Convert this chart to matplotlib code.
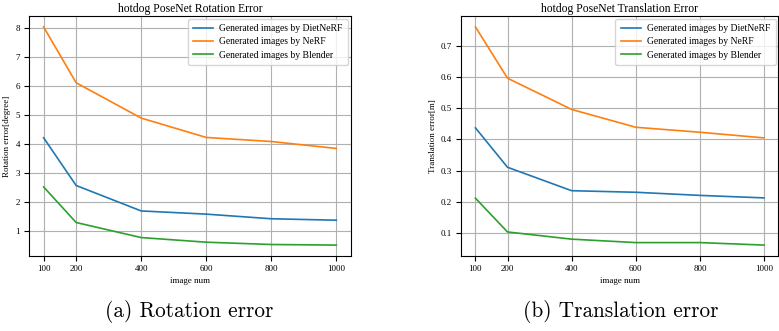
import matplotlib
matplotlib.use("Agg")
import matplotlib.pyplot as plt

# valeurs
image_num = [100, 200, 400, 600, 800, 1000]
labels = ["Generated images by DietNeRF", "Generated images by NeRF", "Generated images by Blender"]

rot_dietnerf = [4.22, 2.57, 1.69, 1.58, 1.42, 1.37]
rot_nerf     = [8.05, 6.12, 4.90, 4.23, 4.09, 3.85]
rot_blender  = [2.52, 1.29, 0.77, 0.61, 0.53, 0.51]

tra_dietnerf = [0.437, 0.311, 0.236, 0.231, 0.221, 0.213]
tra_nerf     = [0.760, 0.596, 0.496, 0.439, 0.423, 0.405]
tra_blender  = [0.212, 0.104, 0.081, 0.070, 0.070, 0.062]

plt.rcParams['font.family'] = ['Liberation Serif', 'DejaVu Serif']
colors = ['#1f77b4', '#ff7f0e', '#2ca02c']

fig = plt.figure(figsize=(7.79, 3.31), dpi=100)
ax1 = fig.add_axes([0.0372, 0.2266, 0.4133, 0.725])
ax2 = fig.add_axes([0.5918, 0.2266, 0.4075, 0.725])

panels = [
    (ax1, [rot_dietnerf, rot_nerf, rot_blender], "hotdog PoseNet Rotation Error", "Rotation error[degree]"),
    (ax2, [tra_dietnerf, tra_nerf, tra_blender], "hotdog PoseNet Translation Error", "Translation error[m]"),
]

for ax, series, title, ylabel in panels:
    for vals, lab, c in zip(series, labels, colors):
        ax.plot(image_num, vals, color=c, lw=1.2, label=lab)
    ax.set_xticks(image_num)
    ax.grid(True, color='#b0b0b0', lw=0.8)
    ax.set_title(title, fontsize=8.4, pad=3)
    ax.set_xlabel("image num", fontsize=6.5, labelpad=3)
    ax.set_ylabel(ylabel, fontsize=6.5, labelpad=3)
    ax.tick_params(labelsize=6.5, length=3.5, width=0.8, pad=3)
    leg = ax.legend(loc='upper right', fontsize=6.9, frameon=True, fancybox=True,
                    handlelength=2.1, handletextpad=0.65, borderpad=0.55,
                    labelspacing=0.45, borderaxespad=0.3)
    leg.get_frame().set_edgecolor('#cccccc')

ax1.set_yticks([1, 2, 3, 4, 5, 6, 7, 8])
ax2.set_yticks([0.1, 0.2, 0.3, 0.4, 0.5, 0.6, 0.7])

fig.text(0.243, 0.06, "(a) Rotation error", ha='center', va='center',
         fontsize=15.3, family='cmr10')
fig.text(0.797, 0.06, "(b) Translation error", ha='center', va='center',
         fontsize=15.3, family='cmr10')

fig.savefig("out.png", dpi=100)
